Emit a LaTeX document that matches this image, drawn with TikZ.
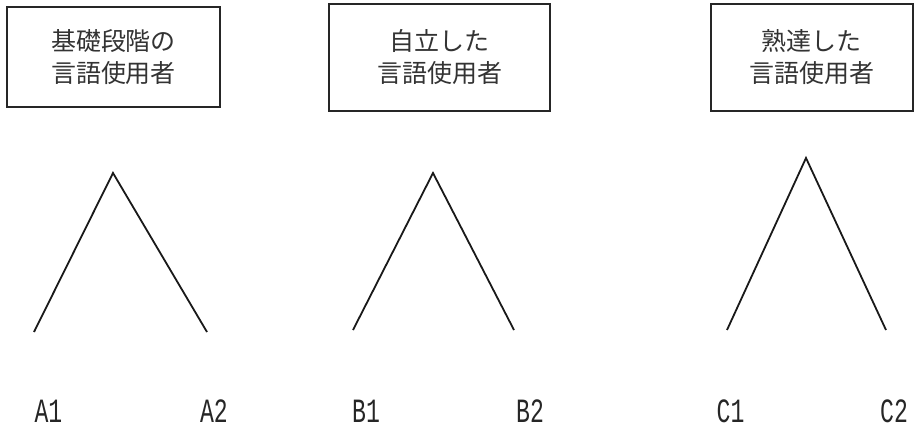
\documentclass[tikz,border=0pt]{standalone}
\usepackage{fontspec}
\newfontfamily\cjk{Noto Sans CJK JP}[Scale=1]
\newfontfamily\lab{Liberation Mono}
\tikzset{
  levelbox/.style={draw=black!85, line width=2pt, rectangle, inner sep=0pt, align=center,
    font={\cjk\fontsize{25}{32}\selectfont}, text=black!80},
  branch/.style={line width=1.8pt, draw=black!90, line join=miter},
  lvl/.style={inner sep=0pt, font={\lab\fontsize{34}{34}\selectfont}, text=black!85}
}
\begin{document}
\begin{tikzpicture}[x=1pt,y=-1pt]
\useasboundingbox (0,0) rectangle (914,428);
% boxes
\node[levelbox, minimum width=213pt, minimum height=100pt] (bA) at (113.5,57) {基礎段階の\\言語使用者};
\node[levelbox, minimum width=221pt, minimum height=107pt] (bB) at (439.5,57.5) {自立した\\言語使用者};
\node[levelbox, minimum width=202pt, minimum height=107pt] (bC) at (811.5,57.5) {熟達した\\言語使用者};
% triangles
\coordinate (tA) at (113,173);
\coordinate (lA) at (34,332);
\coordinate (rA) at (207,332);
\coordinate (tB) at (433,173);
\coordinate (lB) at (353,330);
\coordinate (rB) at (514,330);
\coordinate (tC) at (806,158);
\coordinate (lC) at (727,330);
\coordinate (rC) at (886,330);
\draw[branch] (lA) -- (tA) -- (rA);
\draw[branch] (lB) -- (tB) -- (rB);
\draw[branch] (lC) -- (tC) -- (rC);
% level labels
\node[lvl] (A1) at (48.5,411) {\scalebox{0.68}[1]{A1}};
\node[lvl] (A2) at (214,411) {\scalebox{0.68}[1]{A2}};
\node[lvl] (B1) at (366,411) {\scalebox{0.68}[1]{B1}};
\node[lvl] (B2) at (530,411) {\scalebox{0.68}[1]{B2}};
\node[lvl] (C1) at (730.5,411) {\scalebox{0.68}[1]{C1}};
\node[lvl] (C2) at (894,411) {\scalebox{0.68}[1]{C2}};
\end{tikzpicture}
\end{document}
